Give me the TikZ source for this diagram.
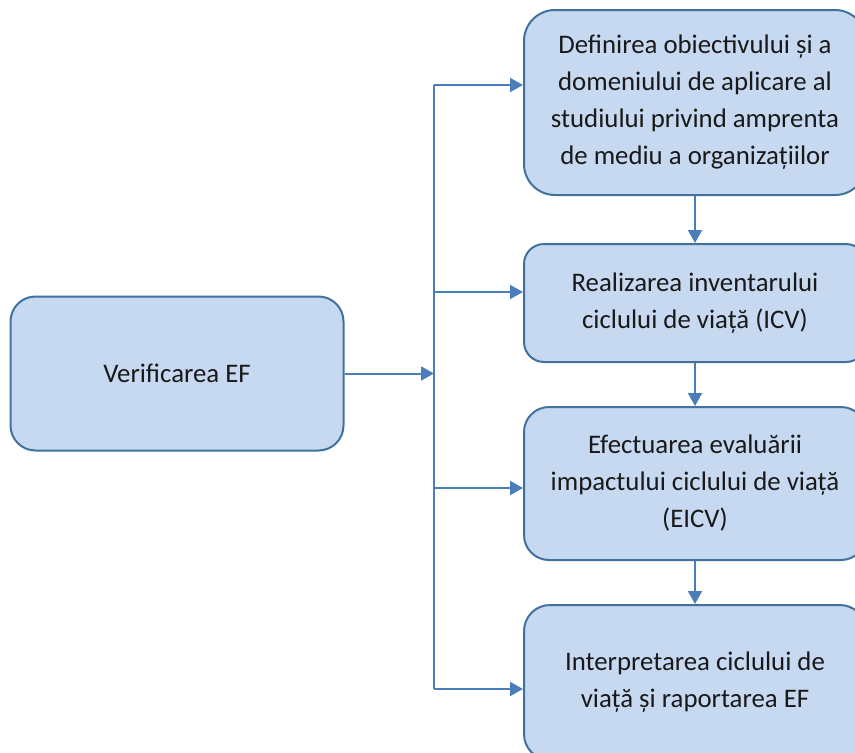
\documentclass[tikz,border=0pt]{standalone}
\usepackage{fontspec}
\setmainfont{Carlito}
\usetikzlibrary{arrows.meta}
\definecolor{boxfill}{HTML}{C6D9F0}
\definecolor{boxline}{HTML}{41719C}
\definecolor{arrowc}{HTML}{4A7EBB}
\tikzset{
  stepbox/.style={draw=boxline, fill=boxfill, line width=2pt, inner sep=0pt,
    align=center, text=black!90, font=\fontsize{26.8}{37}\selectfont},
  conn/.style={draw=arrowc, line width=2pt, -{Triangle[length=13pt,width=14pt]}},
  busline/.style={draw=arrowc, line width=2pt}
}
\begin{document}
\begin{tikzpicture}[x=1pt,y=-1pt]
\useasboundingbox (0,0) rectangle (855,753);
\begin{scope}
\clip (0,0) rectangle (855,753);
\node[stepbox, minimum width=333pt, minimum height=154pt, rounded corners=25pt] (v) at (177,373.5) {Verificarea EF};
\node[stepbox, minimum width=342pt, minimum height=185pt, rounded corners=31pt] (b1) at (695,102.5)
  {Definirea obiectivului și a\\domeniului de aplicare al\\studiului privind amprenta\\de mediu a organizațiilor};
\node[stepbox, minimum width=342pt, minimum height=118pt, rounded corners=20pt] (b2) at (695,303)
  {Realizarea inventarului\\ciclului de viață (ICV)};
\node[stepbox, minimum width=342pt, minimum height=153pt, rounded corners=25pt] (b3) at (695,483.5)
  {Efectuarea evaluării\\impactului ciclului de viață\\(EICV)};
\node[stepbox, minimum width=342pt, minimum height=155pt, rounded corners=26pt] (b4) at (695,682.5)
  {Interpretarea ciclului de\\viață și raportarea EF};
\end{scope}
\coordinate (jm) at (434,373.5);
\coordinate (j1) at (434,85);
\coordinate (j2) at (434,292);
\coordinate (j3) at (434,488);
\coordinate (j4) at (434,689);
\draw[busline] (j1) -- (j4);
\draw[conn] (v.east) -- (jm);
\draw[conn] (j1) -- (j1 -| b1.west);
\draw[conn] (j2) -- (j2 -| b2.west);
\draw[conn] (j3) -- (j3 -| b3.west);
\draw[conn] (j4) -- (j4 -| b4.west);
\draw[conn] (b1.south) -- (b2.north);
\draw[conn] (b2.south) -- (b3.north);
\draw[conn] (b3.south) -- (b4.north);
\end{tikzpicture}
\end{document}
